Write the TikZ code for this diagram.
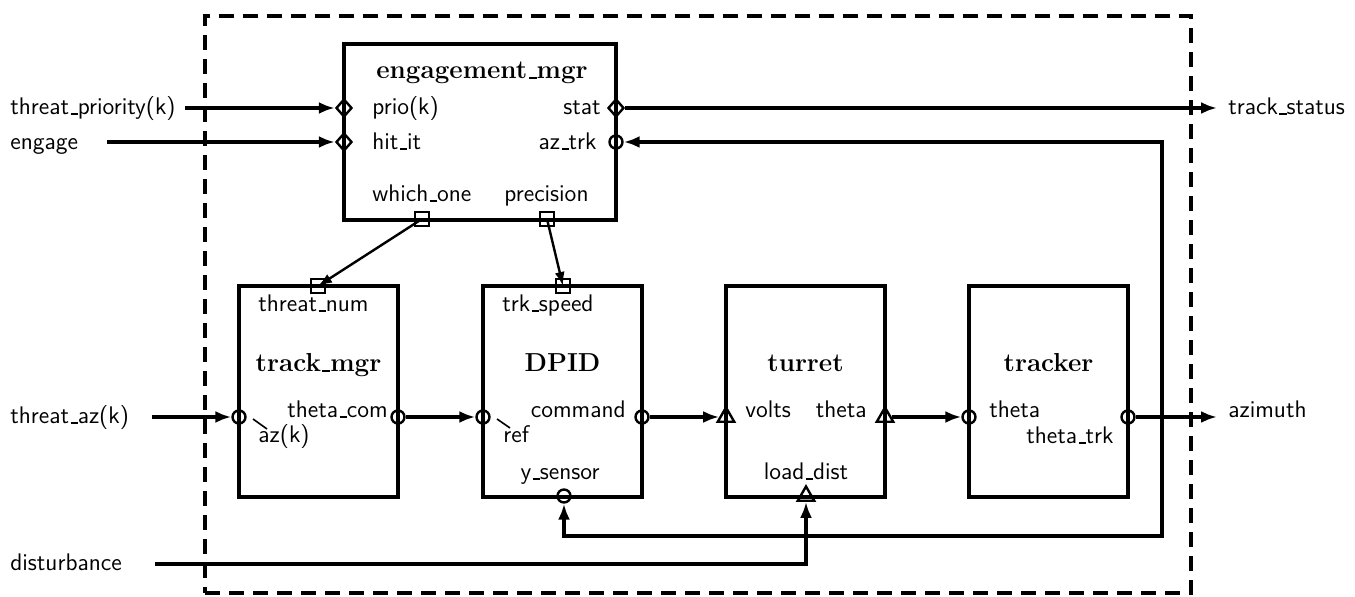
\documentclass[tikz,border=0pt]{standalone}
\usepackage{fix-cm}
\usetikzlibrary{arrows.meta,shapes.geometric}
\newcommand{\usc}{\leavevmode\kern.06em\vbox{\hrule height 0.8pt width .3em}}
\begin{document}
\begin{tikzpicture}[x=0.5pt,y=-0.5pt,
  lbl/.style={font=\fontsize{12}{14}\selectfont\sffamily, inner sep=0pt},
  ttl/.style={font=\fontsize{13}{15}\selectfont\bfseries, inner sep=0pt},
  blk/.style={draw, line width=2pt, minimum width=79.5pt, minimum height=105.5pt, inner sep=0pt},
  cport/.style={circle, draw, line width=1.2pt, minimum size=6.5pt, inner sep=0pt},
  dport/.style={diamond, draw, line width=1.2pt, minimum width=8pt, minimum height=9pt, inner sep=0pt},
  tport/.style={regular polygon, regular polygon sides=3, draw, line width=1.2pt, minimum size=9.5pt, inner sep=0pt},
  sport/.style={rectangle, draw, line width=1.3pt, minimum size=7pt, inner sep=0pt},
  wire/.style={line width=1.6pt},
  flow/.style={wire, -{Latex[length=8pt,width=6pt]}},
  thin flow/.style={line width=1.2pt, -{Latex[length=7pt,width=5pt]}},
  tick/.style={line width=0.8pt},
]
\useasboundingbox (0,0) rectangle (1355,597);

% system boundary
\node[draw, dashed, dash pattern=on 7.5pt off 4.5pt, line width=1.6pt,
      minimum width=493pt, minimum height=288.5pt, inner sep=0pt] (sys) at (698,304.5) {};

% blocks
\node[draw, line width=2pt, minimum width=136pt, minimum height=88pt, inner sep=0pt] (em) at (480,132) {};
\node[blk] (tm) at (318.5,391.5) {};
\node[blk] (dp) at (562.5,391.5) {};
\node[blk] (tu) at (805.5,391.5) {};
\node[blk] (tr) at (1048.5,391.5) {};

% titles
\node[ttl, anchor=base] (em-t) at (482,79) {engagement\usc mgr};
\node[ttl, anchor=base] (tm-t) at (318.5,372) {track\usc mgr};
\node[ttl, anchor=base] (dp-t) at (562.5,372) {DPID};
\node[ttl, anchor=base] (tu-t) at (805.5,372) {turret};
\node[ttl, anchor=base] (tr-t) at (1048.5,372) {tracker};

% engagement_mgr ports and labels
\node[dport] (em-prio) at (344,108) {};
\node[dport] (em-hit) at (344,142) {};
\node[dport] (em-stat) at (616,108) {};
\node[cport] (em-az) at (616,142) {};
\node[sport] (em-wo) at (422,219) {};
\node[sport] (em-pr) at (547,219) {};
\node[lbl, anchor=base west] (l-prio) at (372,115) {prio(k)};
\node[lbl, anchor=base west] (l-hit) at (372,150) {hit\usc it};
\node[lbl, anchor=base east] (l-stat) at (601,115) {stat};
\node[lbl, anchor=base east] (l-az) at (597,150) {az\usc trk};
\node[lbl, anchor=base west] (l-wo) at (372,202) {which\usc one};
\node[lbl, anchor=base west] (l-pr) at (504,202) {precision};

% track_mgr
\node[sport] (tm-tn) at (318,286) {};
\node[cport] (tm-in) at (239,417) {};
\node[cport] (tm-out) at (398,417) {};
\node[lbl, anchor=base west] (l-tn) at (258,312) {threat\usc num};
\node[lbl, anchor=base east] (l-tc) at (388,418) {theta\usc com};
\node[lbl, anchor=base west] (l-azk) at (258,443) {az(k)};
\draw[tick] (253,419) -- (267,429);

% DPID
\node[sport] (dp-ts) at (563,286) {};
\node[cport] (dp-in) at (483,417) {};
\node[cport] (dp-out) at (642,417) {};
\node[cport] (dp-y) at (564,496) {};
\node[lbl, anchor=base west] (l-ts) at (502,312) {trk\usc speed};
\node[lbl, anchor=base east] (l-cmd) at (626,418) {command};
\node[lbl, anchor=base west] (l-ref) at (503,443) {ref};
\node[lbl, anchor=base] (l-ys) at (560,480) {y\usc sensor};
\draw[tick] (497,419) -- (510,428);

% turret
\node[tport] (tu-in) at (726,417) {};
\node[tport] (tu-out) at (885,417) {};
\node[tport] (tu-ld) at (806,496) {};
\node[lbl, anchor=base west] (l-v) at (745,418) {volts};
\node[lbl, anchor=base east] (l-th) at (867,418) {theta};
\node[lbl, anchor=base] (l-ld) at (806,480) {load\usc dist};

% tracker
\node[cport] (tr-in) at (969,417) {};
\node[cport] (tr-out) at (1128,417) {};
\node[lbl, anchor=base west] (l-th2) at (989,418) {theta};
\node[lbl, anchor=base east] (l-tt) at (1114,444) {theta\usc trk};

% external labels
\node[lbl, anchor=base west] (x-tp) at (10,115) {threat\usc priority(k)};
\node[lbl, anchor=base west] (x-en) at (10,150) {engage};
\node[lbl, anchor=base west] (x-ta) at (10,424) {threat\usc az(k)};
\node[lbl, anchor=base west] (x-di) at (10,571) {disturbance};
\node[lbl, anchor=base west] (x-ts) at (1228,115) {track\usc status};
\node[lbl, anchor=base west] (x-az) at (1228,418) {azimuth};

% free ends
\coordinate (c-tp) at (185,108);
\coordinate (c-en) at (107,142);
\coordinate (c-ta) at (152,417);
\coordinate (c-di) at (155,564);
\coordinate (c-ts) at (1217,108);
\coordinate (c-az) at (1217,417);
\coordinate (fb) at (1162,417);
\coordinate (fbb) at (1162,536);

% connectors
\draw[flow] (c-tp) -- (em-prio);
\draw[flow] (c-en) -- (em-hit);
\draw[flow] (em-stat) -- (c-ts);
\draw[flow] (c-ta) -- (tm-in);
\draw[flow] (tm-out) -- (dp-in);
\draw[flow] (dp-out) -- (tu-in);
\draw[flow] (tu-out) -- (tr-in);
\draw[flow] (tr-out) -- (c-az);
\draw[flow] (fb) |- (em-az);
\draw[flow] (fb) -- (fbb) -| (dp-y);
\draw[flow] (c-di) -| (tu-ld);
\draw[thin flow] (em-wo.center) -- (tm-tn.center);
\draw[thin flow] (em-pr.center) -- (dp-ts.center);
\end{tikzpicture}
\end{document}
